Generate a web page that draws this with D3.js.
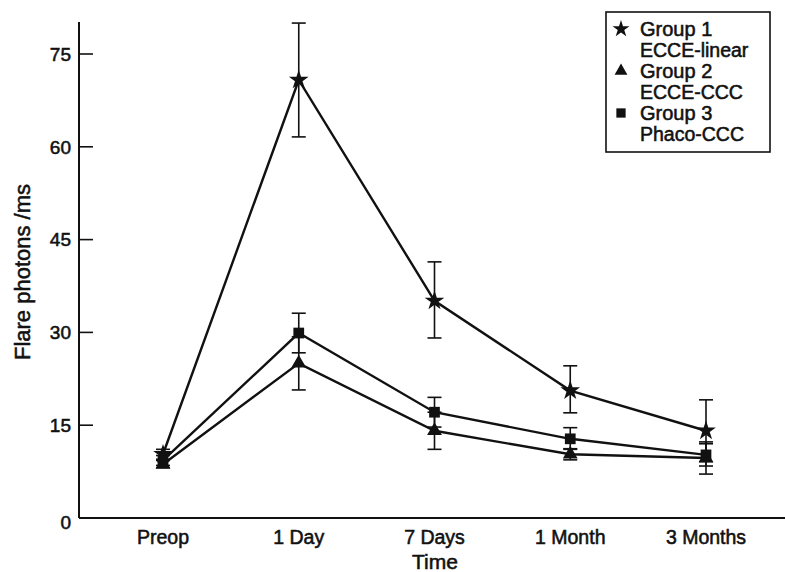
<!DOCTYPE html>
<html>
<head>
<meta charset="utf-8">
<script src="https://cdn.jsdelivr.net/npm/d3@7"></script>
<style>
  body { margin: 0; background: #fff; }
  text { font-family: "Liberation Sans", Arial, sans-serif; fill: #111; stroke: #111; stroke-width: 0.55px; }
</style>
</head>
<body>
<svg id="chart" width="785" height="572"></svg>
<script>
// categories and values
var times = ["Preop", "1 Day", "7 Days", "1 Month", "3 Months"];
var yTicks = [0, 15, 30, 45, 60, 75];

var group1 = [10.3, 70.8, 35.1, 20.6, 14.1];
var group1Lo = [9.5, 61.6, 29.1, 17.0, 9.1];
var group1Hi = [11.1, 80.0, 41.4, 24.6, 19.1];

var group2 = [8.7, 25.0, 14.1, 10.3, 9.7];
var group2Lo = [8.1, 20.7, 11.1, 9.4, 7.1];
var group2Hi = [9.3, 29.3, 17.1, 11.2, 12.3];

var group3 = [9.3, 29.9, 17.1, 12.8, 10.2];
var group3Lo = [8.5, 26.7, 14.7, 11.1, 8.4];
var group3Hi = [10.1, 33.1, 19.5, 14.6, 12.0];

var legendLines = [["Group 1", "ECCE-linear"], ["Group 2", "ECCE-CCC"], ["Group 3", "Phaco-CCC"]];

var series = [
  {name: "g1", values: group1, lo: group1Lo, hi: group1Hi, symbol: d3.symbolStar, size: 120},
  {name: "g2", values: group2, lo: group2Lo, hi: group2Hi, symbol: d3.symbolTriangle, size: 95},
  {name: "g3", values: group3, lo: group3Lo, hi: group3Hi, symbol: d3.symbolSquare, size: 115}
];

var svg = d3.select("#chart");

var x = d3.scalePoint()
  .domain(times)
  .range([163, 706]);

var y = d3.scaleLinear()
  .domain([0, 75])
  .range([518, 54]);

// axes
var axisLeft = 79, axisTop = 22;

svg.append("line")
  .attr("x1", axisLeft).attr("x2", axisLeft)
  .attr("y1", axisTop).attr("y2", y(0))
  .attr("stroke", "#111").attr("stroke-width", 2);

svg.append("line")
  .attr("x1", axisLeft).attr("x2", 785)
  .attr("y1", y(0)).attr("y2", y(0))
  .attr("stroke", "#111").attr("stroke-width", 2);

var yt = svg.append("g").attr("class", "y-ticks");
yt.selectAll("line")
  .data(yTicks.filter(function(d) { return d > 0; }))
  .enter().append("line")
    .attr("x1", axisLeft).attr("x2", axisLeft + 14)
    .attr("y1", function(d) { return y(d); })
    .attr("y2", function(d) { return y(d); })
    .attr("stroke", "#111").attr("stroke-width", 1.6);

yt.selectAll("text")
  .data(yTicks)
  .enter().append("text")
    .attr("x", 71)
    .attr("y", function(d) { return y(d) + (d === 0 ? 4 : 0); })
    .attr("dy", "0.36em")
    .attr("text-anchor", "end")
    .attr("font-size", 19)
    .text(function(d) { return d; });

svg.append("g").selectAll("text")
  .data(times)
  .enter().append("text")
    .attr("x", function(d) { return x(d); })
    .attr("y", 544)
    .attr("text-anchor", "middle")
    .attr("font-size", 19.5)
    .text(function(d) { return d; });

svg.append("text")
  .attr("x", 435).attr("y", 569)
  .attr("text-anchor", "middle")
  .attr("font-size", 21)
  .text("Time");

svg.append("text")
  .attr("transform", "translate(30,272) rotate(-90)")
  .attr("text-anchor", "middle")
  .attr("font-size", 22)
  .text("Flare photons /ms");

// series
var line = d3.line()
  .x(function(d, i) { return x(times[i]); })
  .y(function(d) { return y(d); });

series.forEach(function(s) {
  var g = svg.append("g").attr("class", s.name);

  g.append("path")
    .attr("d", line(s.values))
    .attr("fill", "none")
    .attr("stroke", "#111")
    .attr("stroke-width", 2.4);

  var eb = g.selectAll(".err")
    .data(s.values)
    .enter().append("g")
      .attr("class", "err")
      .attr("transform", function(d, i) { return "translate(" + x(times[i]) + ",0)"; });

  eb.append("line")
    .attr("y1", function(d, i) { return y(s.lo[i]); })
    .attr("y2", function(d, i) { return y(s.hi[i]); })
    .attr("stroke", "#111").attr("stroke-width", 1.6);
  eb.append("line")
    .attr("x1", -7).attr("x2", 7)
    .attr("y1", function(d, i) { return y(s.lo[i]); })
    .attr("y2", function(d, i) { return y(s.lo[i]); })
    .attr("stroke", "#111").attr("stroke-width", 1.6);
  eb.append("line")
    .attr("x1", -7).attr("x2", 7)
    .attr("y1", function(d, i) { return y(s.hi[i]); })
    .attr("y2", function(d, i) { return y(s.hi[i]); })
    .attr("stroke", "#111").attr("stroke-width", 1.6);

  g.selectAll(".pt")
    .data(s.values)
    .enter().append("path")
      .attr("class", "pt")
      .attr("transform", function(d, i) { return "translate(" + x(times[i]) + "," + y(d) + ")"; })
      .attr("d", d3.symbol().type(s.symbol).size(s.size))
      .attr("fill", "#111");
});

// legend
var leg = svg.append("g").attr("transform", "translate(606,12)");
leg.append("rect")
  .attr("width", 164).attr("height", 140)
  .attr("fill", "#fff")
  .attr("stroke", "#111").attr("stroke-width", 1.6);

legendLines.forEach(function(lines, i) {
  var base = 24 + i * 42;
  leg.append("path")
    .attr("transform", "translate(15," + (base - 7) + ")")
    .attr("d", d3.symbol().type(series[i].symbol).size(series[i].size * 0.75))
    .attr("fill", "#111");
  leg.append("text")
    .attr("x", 34).attr("y", base)
    .attr("font-size", 20)
    .text(lines[0]);
  leg.append("text")
    .attr("x", 34).attr("y", base + 21)
    .attr("font-size", 19.5)
    .text(lines[1]);
});
</script>
</body>
</html>
